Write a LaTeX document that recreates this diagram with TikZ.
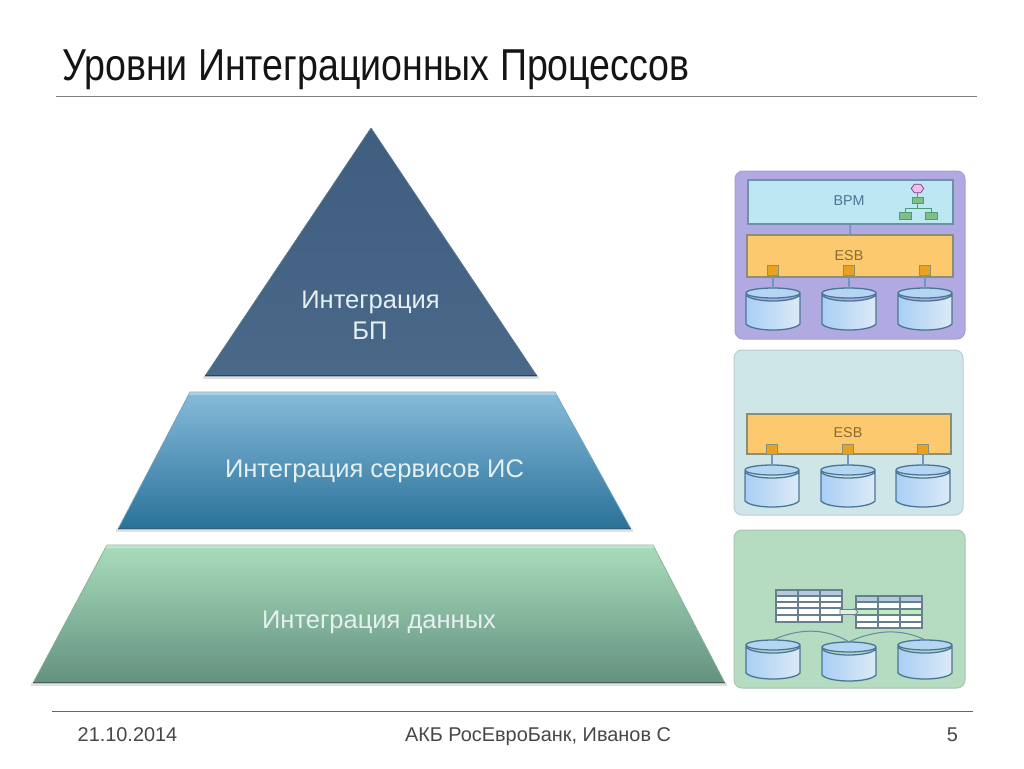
\documentclass[tikz,border=0pt]{standalone}
\usepackage{fontspec}
\setmainfont{Liberation Sans}
\newfontfamily\titlefont[FakeStretch=0.84]{Liberation Sans}
\usetikzlibrary{shapes.geometric}
\definecolor{edgeblue}{HTML}{4A7594}
\definecolor{lineblue}{HTML}{7296BC}
\definecolor{esbfill}{HTML}{FDC96E}
\definecolor{esbedge}{HTML}{8A8F78}
\definecolor{esbtxt}{HTML}{8A6A30}
\definecolor{portfill}{HTML}{E8A21E}
\definecolor{greenbox}{HTML}{7FBF85}
\definecolor{greenedge}{HTML}{4F9A78}
\definecolor{tabedge}{HTML}{66808F}
\definecolor{tabhead}{HTML}{B4C8DE}
\definecolor{pyrtxt}{HTML}{E4F0F2}
\definecolor{bpmfill}{HTML}{BDE7F3}
\definecolor{topa}{HTML}{3F5E80}
\definecolor{topb}{HTML}{4A6888}
\definecolor{topd}{HTML}{5A7690}
\definecolor{mida}{HTML}{86BBDA}
\definecolor{midm}{HTML}{5A9ABF}
\definecolor{midb}{HTML}{2A7199}
\definecolor{midd}{HTML}{6FA5BF}
\definecolor{midl}{HTML}{2E5F7D}
\definecolor{bota}{HTML}{A8DDBC}
\definecolor{botm}{HTML}{93C6A8}
\definecolor{botb}{HTML}{64917F}
\definecolor{botd}{HTML}{86AD98}
\definecolor{botl}{HTML}{46625A}
\definecolor{panela}{HTML}{B0A9E2}
\definecolor{panelb}{HTML}{CFE6E9}
\definecolor{panelc}{HTML}{B5DBC0}
\definecolor{pinkfill}{HTML}{EDBFEA}
\definecolor{rowg}{HTML}{BEEDBE}
\definecolor{arrowfill}{HTML}{DCEFE0}
\definecolor{cyla}{HTML}{A9CFF5}
\definecolor{cylb}{HTML}{DCEAF6}
\definecolor{cylt}{HTML}{B4D6F2}
\tikzset{
  panel/.style={rounded corners=8pt,line width=1pt},
  esbbox/.style={draw=esbedge,line width=1.2pt,fill=esbfill,inner sep=0pt},
  bpmbox/.style={draw=edgeblue!80,line width=1.2pt,fill=bpmfill,inner sep=0pt},
  boxtext/.style={inner sep=0pt,font=\fontsize{14.3}{14}\selectfont},
  portbox/.style={draw=esbedge,line width=.9pt,fill=portfill,minimum width=11.5pt,minimum height=10pt,inner sep=0pt},
  gbox/.style={draw=greenedge,line width=.7pt,fill=greenbox,inner sep=0pt},
  dbhold/.style={inner sep=0pt,minimum width=54pt},
  link/.style={draw=lineblue,line width=1.6pt},
  pyrlabel/.style={text=pyrtxt,anchor=base,inner sep=0pt,font=\fontsize{25.5}{31}\selectfont},
  foot/.style={text=black!72,anchor=base,inner sep=0pt,font=\fontsize{19.9}{20}\selectfont},
  tabline/.style={draw=tabedge,line width=1.1pt},
}
% #1 name, #2 centre x, #3 top y, #4 bottom y
\newcommand{\dbcyl}[4]{%
  \node[dbhold,minimum height=#4pt-#3pt] (#1) at (#2,{(#3+#4)/2}) {};
  \shade[left color=cyla,right color=cylb,draw=edgeblue,line width=1.3pt]
    (#2-27,#3+7) -- (#2-27,#4-6) .. controls (#2-20,#4+2) and (#2+20,#4+2) .. (#2+27,#4-6) -- (#2+27,#3+7)
    .. controls (#2+20,#3+15) and (#2-20,#3+15) .. (#2-27,#3+7) -- cycle;
  \draw[edgeblue,line width=1.3pt,fill=cylt] (#2,#3+5) ellipse (27 and 5);
}
\begin{document}
\begin{tikzpicture}[x=1pt,y=-1pt]
\useasboundingbox (0,0) rectangle (1024,768);
\fill[white] (0,0) rectangle (1024,768);

% title and rules
\node[anchor=base west,inner sep=0pt,text=black!92] (title) at (62,80) {\titlefont\fontsize{44.7}{45}\selectfont Уровни Интеграционных Процессов};
\coordinate (tl) at (56,96); \coordinate (tr) at (977,96);
\draw[black!50,line width=1pt] (tl) -- (tr);
\coordinate (fl) at (52,711); \coordinate (fr) at (973,711);
\draw[black!60,line width=1pt] (fl) -- (fr);

% pyramid: shadows
\fill[black,opacity=.12] (203,376) -- (539,376) -- (539,379) -- (203,379) -- cycle;
\fill[black,opacity=.12] (116,529) -- (633,529) -- (633,532) -- (116,532) -- cycle;
\fill[black,opacity=.12] (31,683) -- (727,683) -- (727,686) -- (31,686) -- cycle;

% pyramid: top
\shade[top color=topa,bottom color=topb,draw=topd,line width=.7pt,line join=round]
  (371,128) -- (537,376) -- (205,376) -- cycle;
\draw[topa!70!black,line width=1.5pt] (205,375.5) -- (537,375.5);
% pyramid: middle
\shade[top color=mida,middle color=midm,bottom color=midb,draw=midd,line width=.7pt,line join=round]
  (190,392) -- (555,392) -- (631,529) -- (118,529) -- cycle;
\fill[white,opacity=.3] (190,392) -- (555,392) -- (556.6,395) -- (188.4,395) -- cycle;
\draw[midl,line width=1.5pt] (118,528.5) -- (631,528.5);
% pyramid: bottom
\shade[top color=bota,middle color=botm,bottom color=botb,draw=botd,line width=.7pt,line join=round]
  (107,545) -- (653,545) -- (725,683) -- (33,683) -- cycle;
\fill[white,opacity=.3] (107,545) -- (653,545) -- (654.6,548) -- (105.4,548) -- cycle;
\draw[botl,line width=1.5pt] (33,682.5) -- (725,682.5);

\node[pyrlabel] (lab1a) at (370.5,308) {Интеграция};
\node[pyrlabel] (lab1b) at (370,339) {БП};
\node[pyrlabel] (lab2) at (374.5,477) {Интеграция сервисов ИС};
\node[pyrlabel] (lab3) at (379,628.5) {Интеграция данных};

% footer
\node[foot] (fdate) at (127.5,741) {21.10.2014};
\node[foot] (forg) at (538,741) {АКБ РосЕвроБанк, Иванов С};
\node[foot] (fnum) at (952.5,741) {5};

% panel 1
\draw[panel,draw=panela!80!gray,fill=panela] (735,171) rectangle (965,339);
\node[bpmbox,minimum width=205pt,minimum height=44pt] (bpm) at (850.5,202) {};
\node[boxtext,text=edgeblue] (bpmtxt) at (849,200.5) {BPM};
\node[esbbox,minimum width=206pt,minimum height=42pt] (esb1) at (850,256) {};
\node[boxtext,text=esbtxt] (esb1txt) at (849,256) {ESB};
\draw[link] (bpm) -- (esb1);
\node[portbox] (p11) at (773,270.5) {};
\node[portbox] (p12) at (849,270.5) {};
\node[portbox] (p13) at (925,270.5) {};
\dbcyl{d11}{773}{288}{330}
\dbcyl{d12}{849}{288}{330}
\dbcyl{d13}{925}{288}{330}
\draw[link] (p11) -- (d11.north);
\draw[link] (p12) -- (d12.north);
\draw[link] (p13) -- (d13.north);
% org chart
\node[draw=violet!50!gray,line width=.7pt,fill=pinkfill,regular polygon,regular polygon sides=6,inner sep=0pt,minimum size=12.5pt,yscale=.8,transform shape] (hx) at (917.5,188.5) {};
\node[gbox,minimum width=11pt,minimum height=6.5pt] (og) at (917.5,200.5) {};
\node[gbox,minimum width=12pt,minimum height=6.5pt] (oa) at (905.5,216) {};
\node[gbox,minimum width=12pt,minimum height=6.5pt] (ob) at (931,216) {};
\draw[greenedge,line width=.7pt] (hx) -- (og);
\coordinate (obus) at (917.5,208);
\draw[greenedge,line width=.7pt] (og.south) -- (obus) -| (oa.north);
\draw[greenedge,line width=.7pt] (og.south) -- (obus) -| (ob.north);

% panel 2
\draw[panel,draw=panelb!75!gray,fill=panelb] (734,350) rectangle (963,515);
\node[esbbox,minimum width=204pt,minimum height=40pt] (esb2) at (849,434) {};
\node[boxtext,text=esbtxt] (esb2txt) at (848,433) {ESB};
\node[portbox] (p21) at (772,449) {};
\node[portbox] (p22) at (848,449) {};
\node[portbox] (p23) at (923,449) {};
\dbcyl{d21}{772}{465}{507}
\dbcyl{d22}{848}{465}{507}
\dbcyl{d23}{923}{465}{507}
\draw[link] (p21) -- (d21.north);
\draw[link] (p22) -- (d22.north);
\draw[link] (p23) -- (d23.north);

% panel 3
\draw[panel,draw=panelc!75!gray,fill=panelc] (734,530) rectangle (965,688);
\dbcyl{d31}{773}{640}{679}
\dbcyl{d32}{849}{642}{681}
\dbcyl{d33}{925}{640}{679}
\draw[edgeblue!85,line width=1pt] (d31.north) .. controls (800,628) and (825,628) .. (d32.north);
\draw[edgeblue!85,line width=1pt] (d32.north) .. controls (875,630) and (900,628) .. (d33.north);
% left table
\fill[white] (776,590) rectangle (842,622);
\fill[tabhead] (776,590) rectangle (842,596);
\draw[tabline] (776,590) rectangle (842,622);
\foreach \ry in {596,602,608,615} \draw[tabline] (776,\ry) -- (842,\ry);
\foreach \cx in {798,820} \draw[tabline] (\cx,590) -- (\cx,622);
% right table
\fill[white] (856,596) rectangle (922,628);
\fill[tabhead] (856,596) rectangle (922,602);
\fill[rowg] (856,609) rectangle (922,615);
\draw[tabline] (856,596) rectangle (922,628);
\foreach \ry in {602,609,615,622} \draw[tabline] (856,\ry) -- (922,\ry);
\foreach \cx in {878,900} \draw[tabline] (\cx,596) -- (\cx,628);
% arrow between tables
\draw[tabedge,line width=.7pt,fill=arrowfill] (840,609.5) -- (854,609.5) -- (854,608.5) -- (858,612) -- (854,615.5) -- (854,614.5) -- (840,614.5) -- cycle;
\end{tikzpicture}
\end{document}
